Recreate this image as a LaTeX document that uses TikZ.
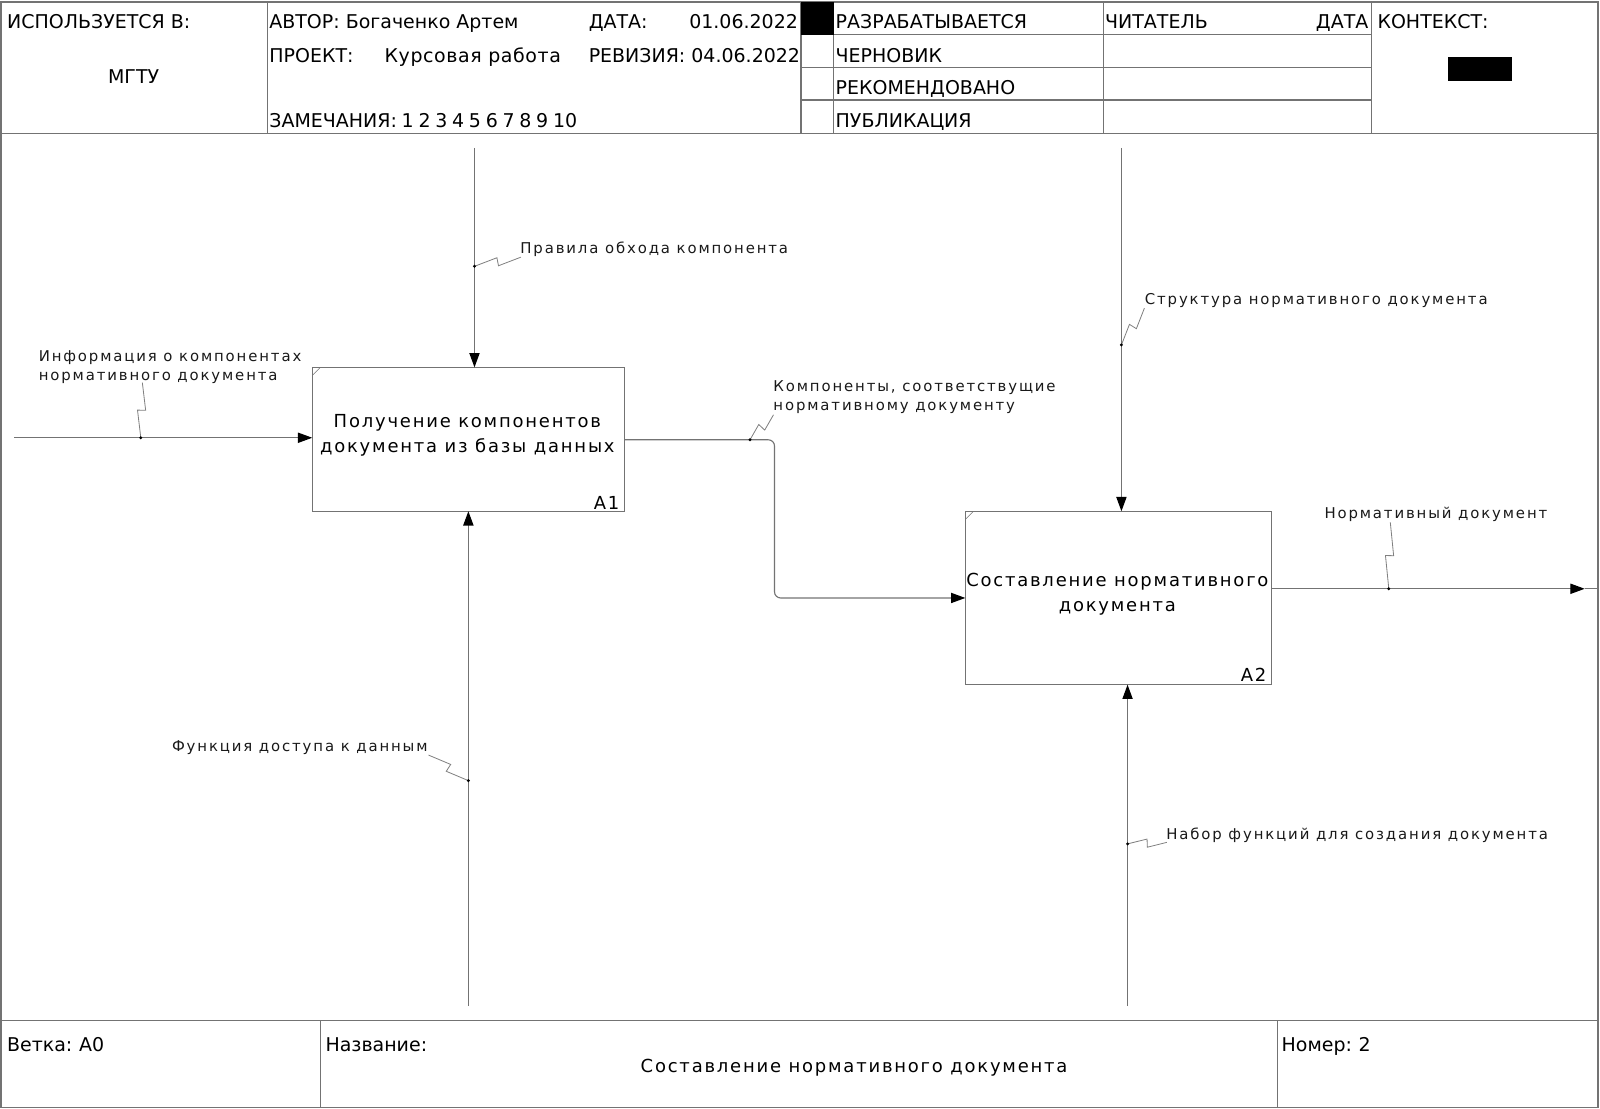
\documentclass[tikz,border=0pt]{standalone}
\usepackage{fontspec}
\setmainfont{DejaVu Sans}
\newfontfamily\boxfamily[LetterSpace=10]{DejaVu Sans}
\newfontfamily\projfamily[LetterSpace=3]{DejaVu Sans}
\newfontfamily\lblfamily[LetterSpace=12.5]{DejaVu Sans}
\usetikzlibrary{arrows.meta,calc}
\definecolor{linec}{gray}{0.45}
\definecolor{leadc}{gray}{0.5}

% zig-zag leader from a point on an arrow (#1) to its label end (#2)
\newcommand\leaderline[2]{%
  \coordinate (#1-m) at ($(#1)!0.5!(#2)$);
  \coordinate (#1-ma) at ($(#1-m)!2pt!90:(#2)$);
  \coordinate (#1-mb) at ($(#1-m)!2pt!-90:(#2)$);
  \draw[leader] (#1) -- (#1-ma) -- (#1-mb) -- (#2);
  \fill (#1) circle[radius=0.8pt];}

\begin{document}
\begin{tikzpicture}[x=0.5pt,y=-0.5pt,
  rule/.style={draw=linec, line width=0.55pt},
  hd/.style={inner sep=0pt, outer sep=0pt, font=\fontsize{9.3}{11}\selectfont},
  boxtext/.style={inner sep=0pt, outer sep=0pt, align=center, font=\boxfamily\fontsize{8.8}{12}\selectfont},
  lbl/.style={inner sep=0pt, outer sep=0pt, text=black!90, font=\lblfamily\fontsize{7.3}{9}\selectfont},
  procbox/.style={draw=linec, line width=0.55pt, inner sep=0pt, outer sep=0pt},
  flow/.style={draw=linec, line width=0.55pt, -{Triangle[length=7pt,width=5pt,color=black]}},
  plain/.style={draw=linec, line width=0.55pt},
  leader/.style={draw=leadc, line width=0.4pt},
]
\useasboundingbox (0,0) rectangle (1568,1086);

% ---------- form frame ----------
\draw[rule] (1,2) rectangle (1566,1085);
\draw[rule] (1,131) -- (1566,131);
\draw[rule] (1,1000) -- (1566,1000);
\foreach \x in {262,785,817,1081,1344} \draw[rule] (\x,2) -- (\x,131);
\foreach \y in {34,66,98} \draw[rule] (785,\y) -- (1344,\y);
\foreach \x in {314,1252} \draw[rule] (\x,1000) -- (\x,1085);
\fill (785,2) rectangle (817,34);
\fill (1419,56) rectangle (1482,79);

% ---------- header texts ----------
\node[hd, anchor=base west] (usedin) at (7,28) {ИСПОЛЬЗУЕТСЯ В:};
\node[hd, anchor=base] (org) at (131,82) {МГТУ};
\node[hd, anchor=base west] (author) at (264,28) {АВТОР: Богаченко Артем};
\node[hd, anchor=base west] (datelbl) at (577,28) {ДАТА:};
\node[hd, anchor=base east] (date) at (782,28) {01.06.2022};
\node[hd, anchor=base west] (projlbl) at (264,61) {ПРОЕКТ:};
\node[hd, anchor=base west, font=\projfamily\fontsize{9.3}{11}\selectfont] (proj) at (377,61) {Курсовая работа};
\node[hd, anchor=base west] (rev) at (577,61) {РЕВИЗИЯ: 04.06.2022};
\node[hd, anchor=base west] (notes) at (264,125) {\spaceskip=0.25em ЗАМЕЧАНИЯ: 1 2 3 4 5 6 7 8 9 10};
\node[hd, anchor=base west] (st1) at (819,28) {РАЗРАБАТЫВАЕТСЯ};
\node[hd, anchor=base west] (st2) at (819,61) {ЧЕРНОВИК};
\node[hd, anchor=base west] (st3) at (819,93) {РЕКОМЕНДОВАНО};
\node[hd, anchor=base west] (st4) at (819,125) {ПУБЛИКАЦИЯ};
\node[hd, anchor=base west] (reader) at (1083,28) {ЧИТАТЕЛЬ};
\node[hd, anchor=base east] (rdate) at (1341,28) {ДАТА};
\node[hd, anchor=base west] (ctx) at (1350,28) {КОНТЕКСТ:};

% ---------- footer texts ----------
\node[hd, anchor=base west] (node) at (7,1030) {\spaceskip=0.25em Ветка: А0};
\node[hd, anchor=base west] (titlelbl) at (319,1030) {Название:};
\node[boxtext, anchor=base] (title) at (837,1051) {Составление нормативного документа};
\node[hd, anchor=base west] (num) at (1256,1030) {\spaceskip=0.25em Номер: 2};

% ---------- activity boxes ----------
\node[procbox, minimum width=153pt, minimum height=70.5pt] (a1) at (459,430.5) {};
\node[procbox, minimum width=150pt, minimum height=85pt] (a2) at (1096,586) {};
\foreach \b in {a1,a2}
  \draw[draw=linec, line width=0.3pt] ($(\b.north west)+(0,8)$) -- ($(\b.north west)+(8,0)$);
\node[boxtext] (a1t) at (458,426.6) {Получение компонентов\\документа из базы данных};
\node[boxtext] (a2t) at (1095,582.5) {Составление нормативного\\документа};
\node[boxtext, anchor=base east] (a1n) at (607,499) {A1};
\node[boxtext, anchor=base east] (a2n) at (1241,668) {A2};

% ---------- arrow ends ----------
\coordinate (in1) at (14,429);
\coordinate (ctl1) at (465,145);
\coordinate (mech1) at (459,986);
\coordinate (ctl2) at (1099,145);
\coordinate (mech2) at (1105,986);
\coordinate (elbow1) at (759,431);
\coordinate (elbow2) at (759,586);
\coordinate (outtip) at (1553,577);
\coordinate (outend) at (1566,577);

% points where the labels attach
\coordinate (j1) at (138,429);
\coordinate (j2) at (465,261);
\coordinate (j3) at (735,431);
\coordinate (j4) at (1099,338);
\coordinate (j5) at (1361,577);
\coordinate (j6) at (459,765);
\coordinate (j7) at (1105,827);

% ---------- arrows ----------
\draw[flow] (in1) -- (in1 -| a1.west);
\draw[flow] (ctl1) -- (ctl1 |- a1.north);
\draw[flow] (mech1) -- (mech1 |- a1.south);
\draw[flow, rounded corners=3pt] (elbow1 -| a1.east) -- (elbow1) -- (elbow2) -- (elbow2 -| a2.west);
\draw[flow] (ctl2) -- (ctl2 |- a2.north);
\draw[flow] (mech2) -- (mech2 |- a2.south);
\draw[flow] (outtip -| a2.east) -- (outtip);
\draw[plain] (outtip) -- (outend);

% ---------- arrow labels ----------
\node[lbl, anchor=north west, align=left] (l1) at (38,344) {Информация о компонентах\\нормативного документа};
\node[lbl, anchor=base west] (l2) at (510,248) {Правила обхода компонента};
\node[lbl, anchor=north west, align=left] (l3) at (758,373.3) {Компоненты, соответствущие\\нормативному документу};
\node[lbl, anchor=base west] (l4) at (1122,298) {Структура нормативного документа};
\node[lbl, anchor=base west] (l5) at (1298,508) {Нормативный документ};
\node[lbl, anchor=base east] (l6) at (419,736) {Функция доступа к данным};
\node[lbl, anchor=base west] (l7) at (1143,823) {Набор функций для создания документа};

\coordinate (e1) at (139.5,375);
\coordinate (e2) at (510.5,252);
\coordinate (e3) at (758,406.5);
\coordinate (e4) at (1121.5,302);
\coordinate (e5) at (1362.5,512);
\coordinate (e6) at (420,740);
\coordinate (e7) at (1143.5,825.5);

\leaderline{j1}{e1}
\leaderline{j2}{e2}
\leaderline{j3}{e3}
\leaderline{j4}{e4}
\leaderline{j5}{e5}
\leaderline{j6}{e6}
\leaderline{j7}{e7}
\end{tikzpicture}
\end{document}
